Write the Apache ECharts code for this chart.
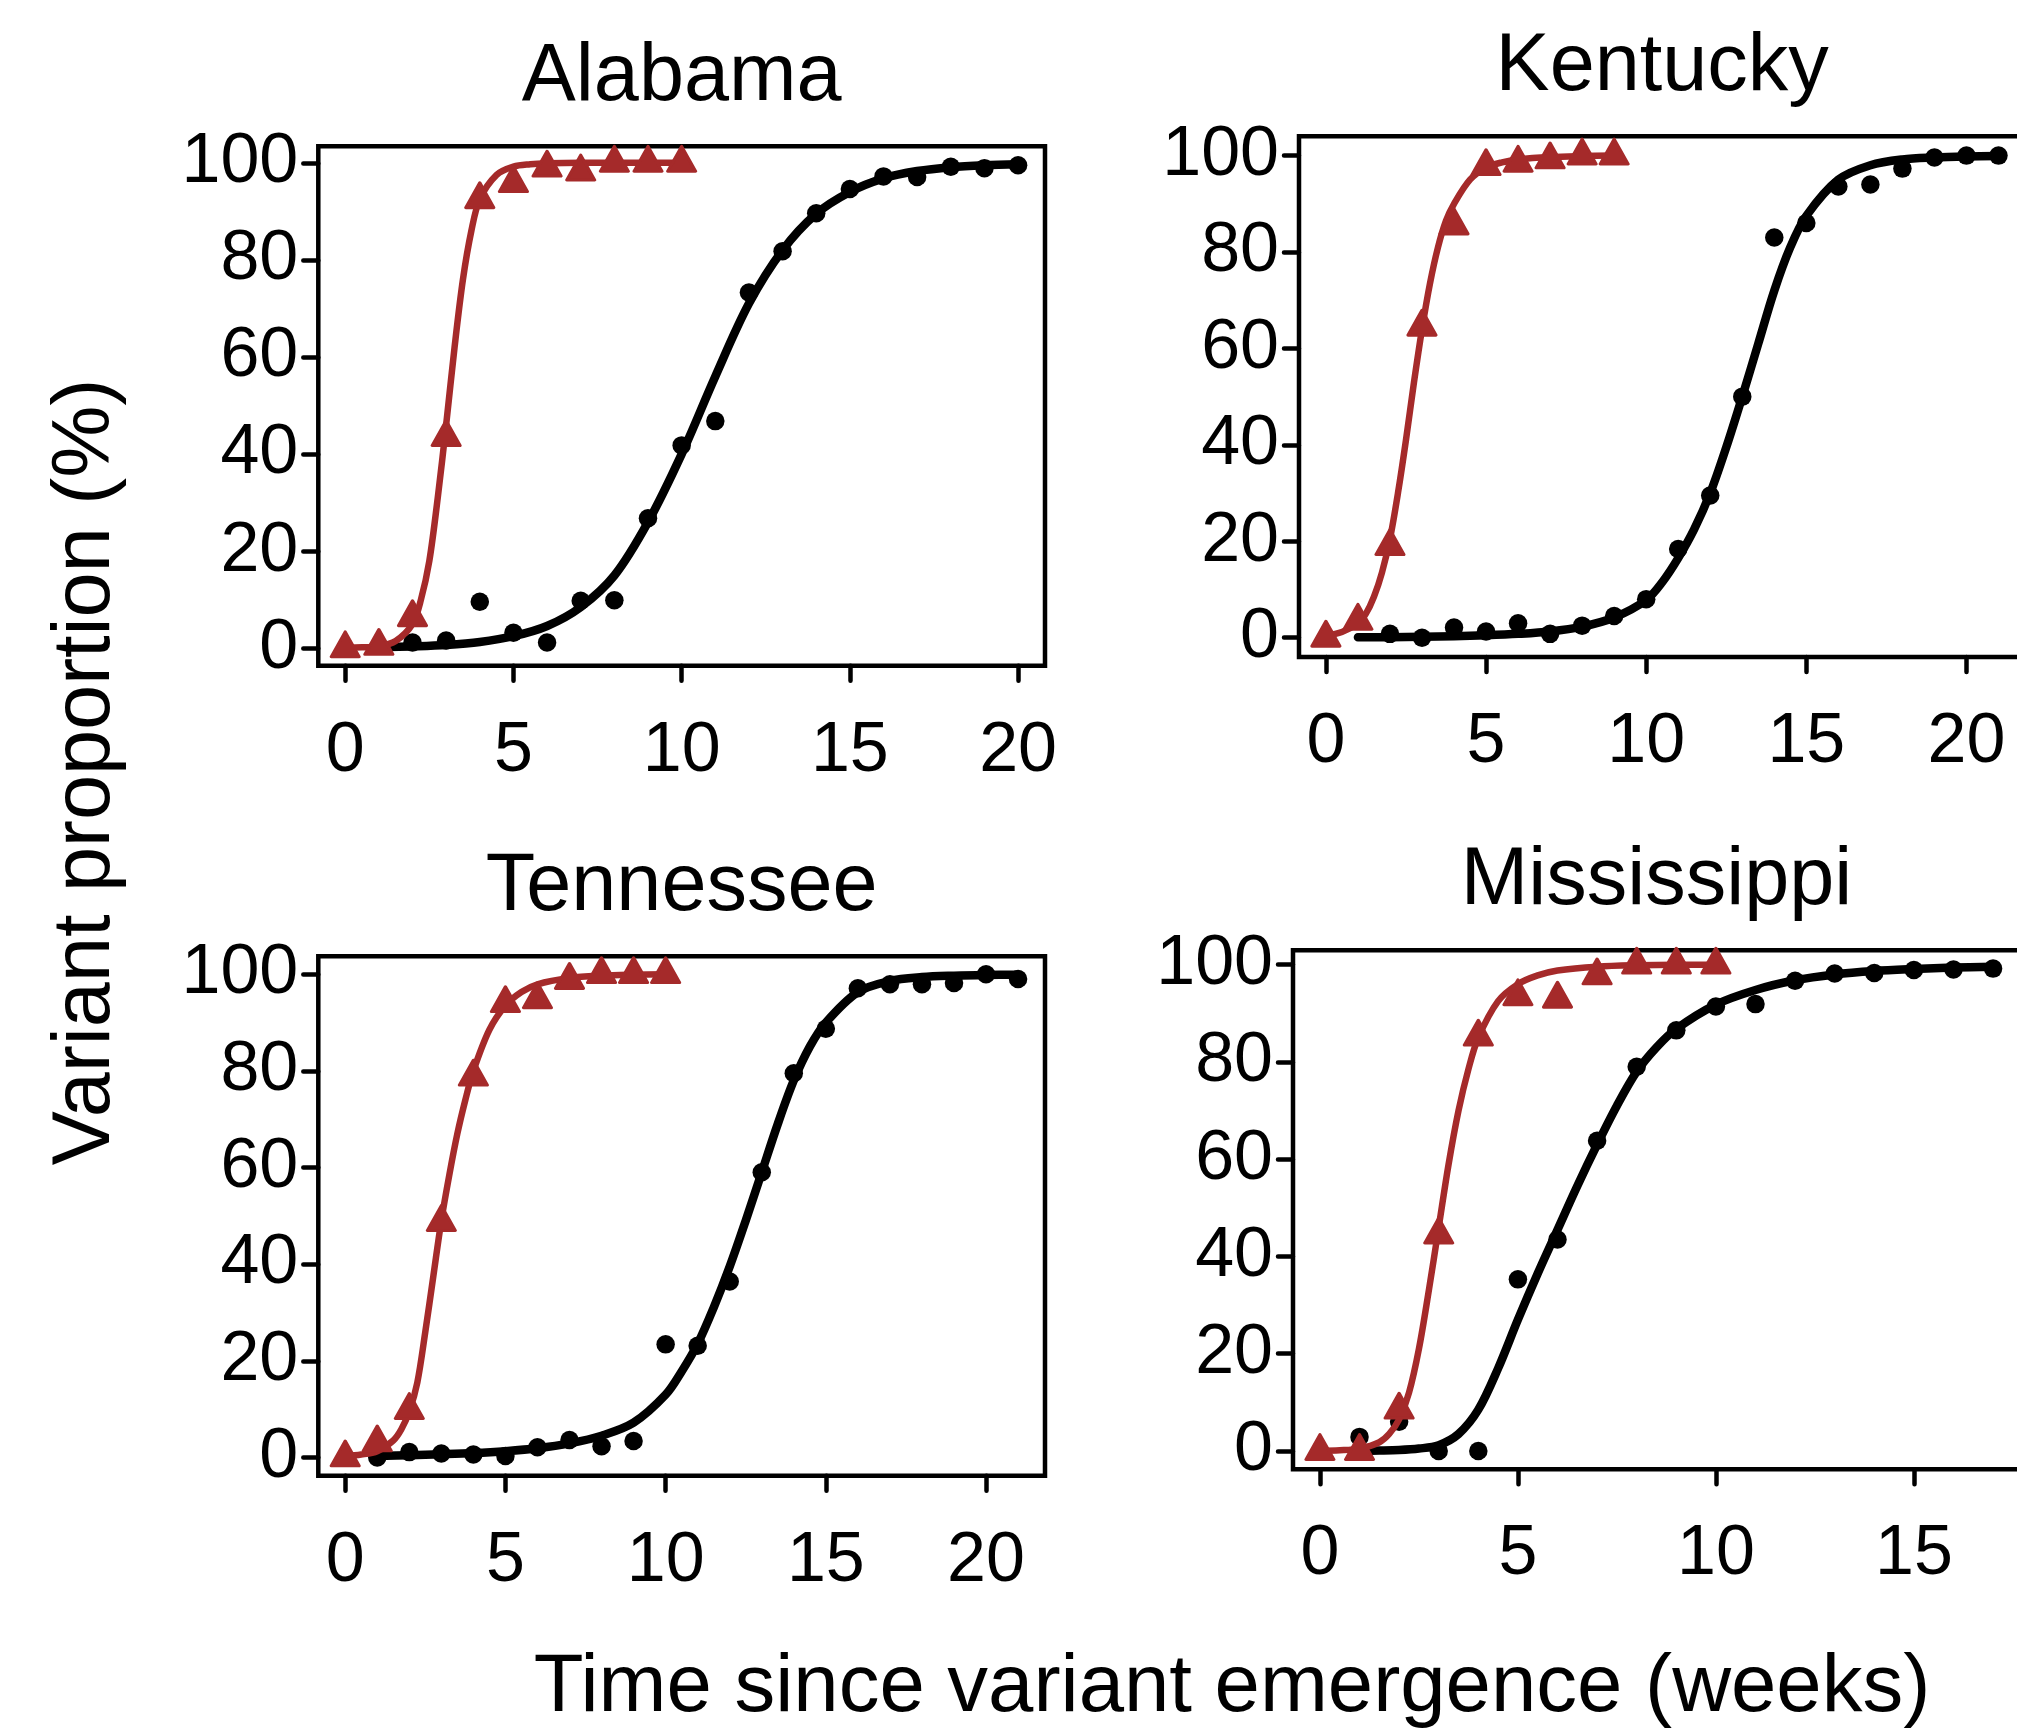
<!DOCTYPE html>
<html>
<head>
<meta charset="utf-8">
<script src="https://cdn.jsdelivr.net/npm/echarts@6/dist/echarts.min.js"></script>
<style>
html,body{margin:0;padding:0;background:#ffffff;}
#chart{width:2017px;height:1729px;}
</style>
</head>
<body>
<div id="chart"></div>
<script>
// ---------------- DATA ----------------
const panelTitles = ['Alabama', 'Kentucky', 'Tennessee', 'Mississippi'];
const yTickValues = [0, 20, 40, 60, 80, 100];
const xTicks20 = [0, 5, 10, 15, 20];
const xTicks15 = [0, 5, 10, 15];
const yAxisTitle = 'Variant proportion (%)';
const xAxisTitle = 'Time since variant emergence (weeks)';

// Alabama
const alRedWeeks = [0, 1, 2, 3, 4, 5, 6, 7, 8, 9, 10];
const alRedObs = [0, 0.5, 6.4, 43.5, 92.5, 95.8, 99, 98.2, 100, 100, 100];
const alBlackWeeks = [2, 3, 4, 5, 6, 7, 8, 9, 10, 11, 12, 13, 14, 15, 16, 17, 18, 19, 20];
const alBlackObs = [1.2, 1.6, 9.6, 3.2, 1.2, 9.8, 9.9, 26.8, 41.8, 46.8, 73.3, 81.8, 89.6, 94.6, 97.2, 97.1, 99.2, 98.9, 99.5];
const alRedFitWeeks = [0, 0.5, 1, 1.5, 2, 2.25, 2.5, 2.75, 3, 3.25, 3.5, 3.75, 4, 4.5, 5, 5.5, 6, 7, 8, 9, 10];
const alRedFit = [0.1, 0.2, 0.4, 1.5, 5, 10, 18, 31, 46, 62, 76, 86, 92.5, 97.5, 99.2, 99.7, 99.9, 100, 100, 100, 100];
const alBlackFitWeeks = [1, 2, 3, 4, 5, 6, 7, 8, 9, 10, 11, 12, 13, 14, 15, 16, 17, 18, 19, 20];
const alBlackFit = [0.2, 0.4, 0.7, 1.3, 2.5, 4.6, 8.5, 15, 26, 40, 56, 71, 82, 89.5, 94, 96.8, 98.3, 99.1, 99.5, 99.7];

// Kentucky
const kyRedWeeks = [0, 1, 2, 3, 4, 5, 6, 7, 8, 9];
const kyRedObs = [0, 3.5, 19, 64.5, 85.5, 97.8, 98.5, 99.2, 100, 100];
const kyBlackWeeks = [2, 3, 4, 5, 6, 7, 8, 9, 10, 11, 12, 13, 14, 15, 16, 17, 18, 19, 20, 21];
const kyBlackObs = [0.8, 0, 2.1, 1.3, 3, 0.8, 2.5, 4.5, 8, 18.4, 29.5, 50, 83, 86, 93.6, 94, 97.3, 99.6, 100, 100];
const kyRedFitWeeks = [0, 0.5, 1, 1.25, 1.5, 1.75, 2, 2.25, 2.5, 2.75, 3, 3.25, 3.5, 3.75, 4, 4.5, 5, 5.5, 6, 7, 8, 9];
const kyRedFit = [0.5, 1.2, 3, 5, 8.5, 13.5, 20.5, 30, 41, 53, 64, 73.5, 81, 86.5, 90, 95, 97.5, 98.6, 99.2, 99.7, 99.9, 100];
const kyBlackFitWeeks = [1, 2, 3, 4, 5, 6, 7, 8, 9, 10, 10.5, 11, 11.5, 12, 12.5, 13, 13.5, 14, 14.5, 15, 16, 17, 18, 19, 20, 21];
const kyBlackFit = [0.08, 0.12, 0.2, 0.3, 0.5, 0.8, 1.3, 2.3, 4.2, 7.8, 11.5, 16.5, 22.5, 30, 39.5, 50, 61, 72, 81, 87.5, 95, 98, 99.2, 99.6, 99.8, 99.9];

// Tennessee
const tnRedWeeks = [0, 1, 2, 3, 4, 5, 6, 7, 8, 9, 10];
const tnRedObs = [0, 3.1, 9.8, 48.7, 78.8, 94, 94.8, 98.8, 100, 100, 100];
const tnBlackWeeks = [1, 2, 3, 4, 5, 6, 7, 8, 9, 10, 11, 12, 13, 14, 15, 16, 17, 18, 19, 20, 21];
const tnBlackObs = [0, 1.1, 0.8, 0.6, 0.3, 2.1, 3.6, 2.3, 3.4, 23.4, 23.1, 36.4, 59, 79.5, 88.7, 97.1, 97.9, 97.9, 98.2, 100, 99];
const tnRedFitWeeks = [0, 0.5, 1, 1.5, 1.75, 2, 2.25, 2.5, 2.75, 3, 3.25, 3.5, 3.75, 4, 4.5, 5, 5.5, 6, 7, 8, 9, 10];
const tnRedFit = [0.3, 0.6, 1.3, 3.5, 5.8, 9.5, 15.5, 26, 37.5, 49, 58.5, 67, 74, 80, 88.5, 93.5, 96.3, 97.9, 99.2, 99.7, 99.9, 100];
const tnBlackFitWeeks = [1, 2, 3, 4, 5, 6, 7, 8, 9, 10, 10.5, 11, 11.5, 12, 12.5, 13, 13.5, 14, 14.5, 15, 16, 17, 18, 19, 20, 21];
const tnBlackFit = [0.3, 0.45, 0.65, 0.9, 1.3, 1.9, 2.9, 4.5, 7.2, 13, 17.8, 23.5, 31, 39.5, 49, 59, 69, 78, 85, 90, 96.3, 98.6, 99.4, 99.7, 99.85, 99.9];

// Mississippi
const msRedWeeks = [0, 1, 2, 3, 4, 5, 6, 7, 8, 9, 10];
const msRedObs = [0, 0, 8.5, 44.5, 85.2, 93.5, 93, 97.8, 100, 100, 100];
const msBlackWeeks = [1, 2, 3, 4, 5, 6, 7, 8, 9, 10, 11, 12, 13, 14, 15, 16, 17];
const msBlackObs = [2.9, 6, 0, 0, 35.3, 43.5, 63.8, 79, 86.5, 91.4, 91.9, 96.7, 98.2, 98.3, 98.9, 99, 99.2];
const msRedFitWeeks = [0, 0.5, 1, 1.5, 1.75, 2, 2.25, 2.5, 2.75, 3, 3.25, 3.5, 3.75, 4, 4.5, 5, 5.5, 6, 7, 8, 9, 10];
const msRedFit = [0.05, 0.15, 0.5, 1.8, 3.5, 6.5, 12, 21, 33, 46, 59, 70, 78.5, 85, 92.5, 96, 97.8, 98.8, 99.6, 99.9, 100, 100];
const msBlackFitWeeks = [1, 1.5, 2, 2.5, 3, 3.5, 4, 4.5, 5, 5.5, 6, 6.5, 7, 7.5, 8, 8.5, 9, 10, 11, 12, 13, 14, 15, 16, 17];
const msBlackFit = [0.05, 0.1, 0.2, 0.5, 1.2, 3.5, 8.5, 17, 27, 36.5, 45.5, 54.5, 63, 71, 78, 83, 86.8, 91.8, 94.8, 96.8, 98, 98.7, 99.1, 99.4, 99.6];

// ---------------- LAYOUT / STYLE ----------------
const FONT = '"Liberation Sans", Arial, Helvetica, sans-serif';
const RED = '#A52A2A';
const BLACK = '#000000';
const TICK_FONT = 70;

const panels = [
  { title: panelTitles[0], grid: { left: 318.3, top: 146.3, width: 726.7, height: 519.5 }, x: [-0.8, 20.8], y: [-3.6, 103.4], xt: xTicks20,
    redW: alRedWeeks, redV: alRedObs, blackW: alBlackWeeks, blackV: alBlackObs,
    rfW: alRedFitWeeks, rfV: alRedFit, bfW: alBlackFitWeeks, bfV: alBlackFit },
  { title: panelTitles[1], grid: { left: 1299, top: 136.3, width: 726.4, height: 520.7 }, x: [-0.84, 21.84], y: [-4, 104], xt: xTicks20,
    redW: kyRedWeeks, redV: kyRedObs, blackW: kyBlackWeeks, blackV: kyBlackObs,
    rfW: kyRedFitWeeks, rfV: kyRedFit, bfW: kyBlackFitWeeks, bfV: kyBlackFit },
  { title: panelTitles[2], grid: { left: 318.3, top: 956.3, width: 726.7, height: 519.5 }, x: [-0.84, 21.84], y: [-3.8, 103.7], xt: xTicks20,
    redW: tnRedWeeks, redV: tnRedObs, blackW: tnBlackWeeks, blackV: tnBlackObs,
    rfW: tnRedFitWeeks, rfV: tnRedFit, bfW: tnBlackFitWeeks, bfV: tnBlackFit },
  { title: panelTitles[3], grid: { left: 1293, top: 950.3, width: 727, height: 518.9 }, x: [-0.68, 17.68], y: [-3.74, 102.96], xt: xTicks15,
    redW: msRedWeeks, redV: msRedObs, blackW: msBlackWeeks, blackV: msBlackObs,
    rfW: msRedFitWeeks, rfV: msRedFit, bfW: msBlackFitWeeks, bfV: msBlackFit }
];

function zip(a, b) { return a.map((v, i) => [v, b[i]]); }

const grids = [], xAxes = [], yAxes = [], series = [], graphics = [];

panels.forEach((p, i) => {
  grids.push(Object.assign({
    show: true, borderColor: BLACK, borderWidth: 4.5, backgroundColor: 'transparent',
    containLabel: false, outerBoundsMode: 'none'
  }, p.grid));

  xAxes.push({
    gridIndex: i, type: 'value', min: p.x[0], max: p.x[1],
    axisLine: { show: false, onZero: false },
    splitLine: { show: false },
    axisTick: { show: true, inside: false, length: 15, customValues: p.xt,
      lineStyle: { color: BLACK, width: 4.5, cap: 'round' } },
    axisLabel: { show: true, customValues: p.xt, margin: 51, fontSize: TICK_FONT, color: BLACK, fontFamily: FONT,
      showMinLabel: true, showMaxLabel: true }
  });

  yAxes.push({
    gridIndex: i, type: 'value', min: p.y[0], max: p.y[1],
    axisLine: { show: false, onZero: false },
    splitLine: { show: false },
    axisTick: { show: true, inside: false, length: 15, customValues: yTickValues,
      lineStyle: { color: BLACK, width: 4.5, cap: 'round' } },
    axisLabel: { show: true, customValues: yTickValues, margin: 20, fontSize: TICK_FONT, color: BLACK, fontFamily: FONT,
      showMinLabel: true, showMaxLabel: true }
  });

  series.push({
    type: 'line', xAxisIndex: i, yAxisIndex: i, data: zip(p.bfW, p.bfV),
    smooth: 0.33, showSymbol: false, symbol: 'none', silent: true, z: 2,
    lineStyle: { color: BLACK, width: 8.5, cap: 'round', join: 'round' }
  });
  series.push({
    type: 'scatter', xAxisIndex: i, yAxisIndex: i, data: zip(p.blackW, p.blackV),
    symbol: 'circle', symbolSize: 18.5, silent: true, z: 3,
    itemStyle: { color: BLACK, opacity: 1 }
  });
  series.push({
    type: 'line', xAxisIndex: i, yAxisIndex: i, data: zip(p.rfW, p.rfV),
    smooth: 0.33, showSymbol: false, symbol: 'none', silent: true, z: 4,
    lineStyle: { color: RED, width: 6.5, cap: 'round', join: 'round' }
  });
  series.push({
    type: 'scatter', xAxisIndex: i, yAxisIndex: i, data: zip(p.redW, p.redV),
    symbol: 'triangle', symbolSize: [28, 25], symbolOffset: [0, -4], silent: true, z: 5,
    itemStyle: { color: RED, borderColor: RED, borderWidth: 3, borderJoin: 'round', opacity: 1 }
  });

  graphics.push({
    type: 'text', silent: true, z: 10,
    x: p.grid.left + p.grid.width / 2,
    y: p.grid.top - 68.5,
    style: { text: p.title, font: '81px ' + FONT, fill: BLACK, textAlign: 'center', textVerticalAlign: 'middle',
      align: 'center', verticalAlign: 'middle' }
  });
});

graphics.push({
  type: 'text', silent: true, z: 10, x: 87, y: 772, rotation: Math.PI / 2,
  style: { text: yAxisTitle, font: '81px ' + FONT, fill: BLACK, textAlign: 'center', textVerticalAlign: 'middle',
    align: 'center', verticalAlign: 'middle' }
});
graphics.push({
  type: 'text', silent: true, z: 10, x: 1232, y: 1689,
  style: { text: xAxisTitle, font: '81.5px ' + FONT, fill: BLACK, textAlign: 'center', textVerticalAlign: 'middle',
    align: 'center', verticalAlign: 'middle' }
});

const chart = echarts.init(document.getElementById('chart'), null, { renderer: 'canvas', width: 2017, height: 1729 });
chart.setOption({
  backgroundColor: '#ffffff',
  animation: false,
  tooltip: { show: false },
  grid: grids,
  xAxis: xAxes,
  yAxis: yAxes,
  series: series,
  graphic: { elements: graphics }
});
</script>
</body>
</html>
